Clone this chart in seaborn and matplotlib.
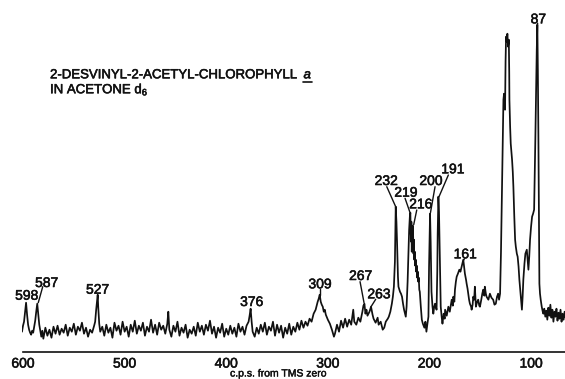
import matplotlib
matplotlib.use("Agg")
import matplotlib.pyplot as plt
import matplotlib.patheffects as pe
import pandas as pd
import seaborn as sns

# ---------------- data ----------------
# chart-scale frequency (c.p.s. from TMS zero) and trace height above the axis
freq = [
    601, 600, 599, 598, 597, 596, 595, 594, 593, 592, 591, 590, 589, 588, 587, 586, 585, 584, 583, 582, 581, 580,
    578, 576, 574, 572, 570, 568, 566, 564, 562, 560, 558, 556, 554, 552, 550, 548, 546, 544, 542, 540, 538, 536,
    534, 532, 530, 529, 528, 527, 526.5, 526, 525, 524,
    522, 520, 518, 516, 514, 512, 510, 508, 506, 504, 502, 500, 498, 496, 494, 492, 490, 488, 486, 484, 482, 480,
    478, 476, 474, 472, 470, 468, 466, 464, 462, 460, 458, 457, 456, 454, 452, 450, 448, 446, 444, 442, 440, 438,
    436, 434, 432, 430, 428, 426, 424, 422, 420, 418, 416, 414, 412, 410, 408, 406, 404, 402, 400, 398, 396, 394,
    392, 390, 388, 386, 384, 382, 380, 378, 377, 376, 375, 374,
    372, 370, 368, 366, 364, 362, 360, 358, 356, 354, 352, 350, 348, 346, 344, 342, 340, 338, 336, 334, 332, 330,
    328, 326, 324, 322, 320, 318, 316,
    314, 312, 310, 309, 308, 307, 306, 305, 304, 303, 302, 300, 298, 296, 294, 293,
    291, 289, 287, 285, 283, 281, 279, 277, 275, 274, 272, 270, 268, 266, 265, 264, 263, 262, 261, 259, 257.5,
    256, 255, 253, 251, 250, 248, 246, 244.5, 243, 241, 240,
    238.5, 237, 236, 235, 234, 233.2, 232.5, 231.9, 231, 230.5, 229, 228, 227, 226, 225, 224, 223.3,
    222.5, 221.5, 220.5, 220, 219.3, 218.8, 218.4, 218, 217.8, 217.4, 217, 216.8, 216.4, 216.1, 215.7, 215.3,
    214.9, 214.5, 214, 213.5, 213, 212.5, 212, 211.5, 211, 210.5, 210, 209.5, 208.5, 207.5, 206.5, 205, 204,
    203, 202, 201,
    200.4, 199.8, 199.4, 198.8, 198, 197, 196.2, 195.3, 194.5, 193.5, 193, 192.3, 191.9, 191.2, 190.6, 190.2,
    189.5, 188.9, 188, 187.2, 186, 185, 184.6, 183, 181.4, 180, 178.1, 177, 176.5, 175.5, 174.9, 174, 173.2,
    172, 170.6, 169.5, 168.3, 167.5, 166.7, 165.8, 165.1, 164, 163.4, 162.5, 161.8, 161, 160.2, 159, 158.5,
    157.5, 156.9, 156, 155.3, 154.3, 153, 152, 151, 150.3, 149, 148, 147.1, 146, 145.5, 144.5, 143.8, 142,
    140.5, 139, 137.3, 136, 134.7, 133.5, 132.4, 131.5, 130.5,
    129.6, 128.8, 128, 127.2, 126.6, 126.3, 125.6, 125.1, 124.6, 124, 123.3, 122.6, 121.9, 121.5, 121.3, 120.6,
    120, 119.3, 118.7, 118, 117.4, 116.5, 115.7, 115, 114, 113.2, 112.3, 111.5, 110.7, 109.8, 109, 108.3, 107.6,
    106.5, 105.6, 104.9, 104.2, 103.4, 102.6, 101.8, 101, 100, 99, 98, 97, 96.4, 95.8, 95.1, 94.4, 93.8, 93.3,
    92.8, 92.3, 91.8, 91.2, 90.5, 89.5, 88.5, 87.9,
    87, 86, 85, 84, 83, 82, 81, 80, 79, 78, 77, 76, 75, 74, 73, 72, 71, 70, 69, 68, 67, 66,
]
signal = [
    20, 26, 30, 40, 49, 37, 27, 22, 19, 17, 21, 19, 25, 31, 40, 48, 38, 27, 21, 15, 21, 13,
    24, 16, 22, 14, 25, 18, 26, 17, 23, 19, 27, 16, 24, 20, 28, 17, 25, 21, 29, 18, 24, 15,
    22, 19, 26, 30, 42, 52, 57, 45, 28, 20,
    25, 16, 27, 19, 24, 14, 29, 21, 26, 17, 30, 20, 25, 15, 27, 20, 31, 18, 26, 21, 29, 16,
    25, 20, 32, 19, 27, 17, 29, 22, 26, 18, 28, 40, 22, 15, 26, 20, 30, 16, 24, 19, 27, 14,
    22, 18, 25, 16, 29, 20, 26, 17, 27, 21, 31, 18, 25, 14, 24, 19, 28, 15, 23, 17, 26, 18,
    24, 15, 28, 20, 25, 17, 26, 30, 36, 43, 30, 20,
    15, 24, 18, 27, 20, 29, 17, 25, 21, 30, 16, 27, 19, 26, 14, 24, 18, 28, 17, 25, 20, 29,
    22, 31, 24, 30, 26, 33, 30,
    38, 42, 50, 53, 57, 50, 47, 45, 40, 42, 37, 32, 28, 22, 15, 18,
    27, 20, 31, 24, 33, 25, 32, 27, 42, 30, 27, 34, 30, 40, 46, 48, 38, 42, 36, 40, 45,
    37, 33, 29, 34, 27, 30, 22, 24, 30, 33, 35,
    40, 48, 55, 65, 90, 145, 130, 110, 75, 65, 60, 58, 55, 48, 42, 38, 35,
    45, 70, 105, 122, 135, 139, 118, 110, 130, 100, 120, 108, 126, 118, 98, 112,
    92, 100, 86, 92, 80, 86, 74, 80, 70, 74, 62, 60, 45, 32, 28, 24, 30,
    20, 28, 35,
    85, 120, 138, 110, 60, 45, 38, 45, 48, 44, 42, 80, 118, 155, 140, 118,
    80, 45, 35, 28, 38, 33, 42, 36, 45, 40, 52, 46, 55, 50, 62, 70, 75,
    78, 82, 80, 85, 88, 92, 84, 78, 72, 68, 63, 58, 52, 48, 45, 42,
    47, 55, 52, 65, 45, 50, 52, 46, 45, 52, 58, 62, 56, 65, 58, 55, 52,
    58, 54, 52, 47, 48, 55, 58, 52, 58,
    100, 152, 210, 252, 258, 255, 242, 290, 315, 310, 318, 305, 312, 280, 252, 225,
    208, 200, 192, 180, 165, 135, 112, 105, 98, 95, 85, 72, 62, 50, 42, 55, 72,
    88, 98, 100, 102, 92, 82, 95, 112, 125, 135, 138, 142, 175, 212, 260, 302, 327, 280,
    218, 140, 68, 58, 52, 45, 40, 38,
    43, 35, 41, 32, 44, 36, 47, 34, 42, 30, 40, 35, 43, 31, 39, 33, 42, 30, 38, 32, 40, 34,
]

peak_labels = ["598", "587", "527", "376", "309", "267", "263",
               "232", "219", "216", "200", "191", "161", "87"]

x_major = [600, 500, 400, 300, 200, 100]
x_minor = [550, 450, 350, 250, 150]
x_label = "c.p.s. from TMS zero"
title_main = "2-DESVINYL-2-ACETYL-CHLOROPHYLL"
title_suffix = "a"
title_line2 = "IN ACETONE d$_6$"

# ---------------- layout (positions of labels and leader lines) ----------------
label_layout = {
    "598": ((596.4, 52.0), None),
    "587": ((576.7, 64.7), ((580.6, 65.0), (585.0, 49.0))),
    "527": ((526.5, 58.0), None),
    "376": ((374.9, 45.7), None),
    "309": ((307.7, 63.4), ((307.7, 62.5), (307.7, 57.0))),
    "267": ((267.6, 71.7), ((268.3, 70.0), (264.4, 49.0))),
    "263": ((249.6, 53.4), ((252.9, 52.4), (257.5, 45.0))),
    "232": ((242.4, 166.7), ((242.0, 165.0), (232.8, 144.0))),
    "219": ((223.2, 155.0), ((224.0, 153.4), (219.1, 139.0))),
    "216": ((208.5, 143.4), ((212.5, 141.7), (215.5, 127.0))),
    "200": ((198.4, 166.7), ((194.5, 165.0), (199.0, 139.0))),
    "191": ((177.1, 178.4), ((181.4, 176.7), (190.6, 155.0))),
    "161": ((164.9, 93.4), ((165.6, 93.0), (166.7, 91.0))),
    "87": ((92.8, 328.4), ((93.5, 328.4), (93.8, 327.0))),
}

W, H, DPI = 565, 379, 100
X_LEFT, X_RIGHT = 601, 66.6
Y_TOP = 351.7
INK = "#111111"
thick = [pe.withStroke(linewidth=0.4, foreground=INK)]

sns.set_style("white")
plt.rcParams["font.family"] = ["Liberation Sans", "DejaVu Sans"]
plt.rcParams["mathtext.fontset"] = "custom"
plt.rcParams["mathtext.rm"] = "Liberation Sans"
plt.rcParams["mathtext.it"] = "Liberation Sans:italic"

fig = plt.figure(figsize=(W / DPI, H / DPI), dpi=DPI)
fig.patch.set_facecolor("white")
ax = fig.add_axes([22 / W, (H - 351.7) / H, 543 / W, 351.7 / H])
ax.set_facecolor("white")

df = pd.DataFrame({"freq": freq, "signal": signal})
sns.lineplot(data=df, x="freq", y="signal", ax=ax, estimator=None, sort=False,
             color=INK, linewidth=1.25)

ax.set_xlim(X_LEFT, X_RIGHT)
ax.set_ylim(0, Y_TOP)

for s in ["top", "left", "right"]:
    ax.spines[s].set_visible(False)
ax.spines["bottom"].set_linewidth(1.2)
ax.spines["bottom"].set_color(INK)
ax.spines["bottom"].set_bounds(600, X_RIGHT)

ax.set_xticks(x_major)
ax.set_xticklabels([str(v) for v in x_major])
ax.set_xticks(x_minor, minor=True)
ax.tick_params(axis="x", which="both", direction="in", length=6, width=1.2,
               color=INK, pad=3.5, labelsize=10, labelcolor=INK)
for t in ax.get_xticklabels():
    t.set_path_effects(thick)
ax.set_yticks([])
ax.set_xlabel("")
ax.set_ylabel("")

ax.text(349, -0.062, x_label, transform=ax.get_xaxis_transform(), ha="center",
        va="center", fontsize=7.5, color=INK,
        path_effects=[pe.withStroke(linewidth=0.3, foreground=INK)])

for lab in peak_labels:
    (tx, ty), leader = label_layout[lab]
    ax.text(tx, ty, lab, ha="center", va="baseline", fontsize=10, color=INK,
            path_effects=thick)
    if leader is not None:
        (x0, y0), (x1, y1) = leader
        ax.plot([x0, x1], [y0, y1], color=INK, lw=1.0)

# title block
t1 = ax.text(573.4, 273.4, title_main, ha="left", va="baseline", fontsize=9.5,
             color=INK, path_effects=thick)
ax.text(573.4, 258.4, title_line2, ha="left", va="baseline", fontsize=9.5,
        color=INK, path_effects=thick)
fig.canvas.draw()
r = fig.canvas.get_renderer()
bb = t1.get_window_extent(r)
xa = ax.transData.inverted().transform((bb.x1 + 5, 0))[0]
ta = ax.text(xa, 273.4, title_suffix, ha="left", va="baseline", fontsize=9.5,
             style="italic", color=INK, path_effects=thick)
fig.canvas.draw()
bba = ta.get_window_extent(r)
inv = ax.transData.inverted()
ux0 = inv.transform((bba.x0 - 1, 0))[0]
ux1 = inv.transform((bba.x1 + 1, 0))[0]
ax.plot([ux0, ux1], [270.0, 270.0], color=INK, lw=1.2)

fig.savefig("out.png", dpi=DPI, facecolor="white")
